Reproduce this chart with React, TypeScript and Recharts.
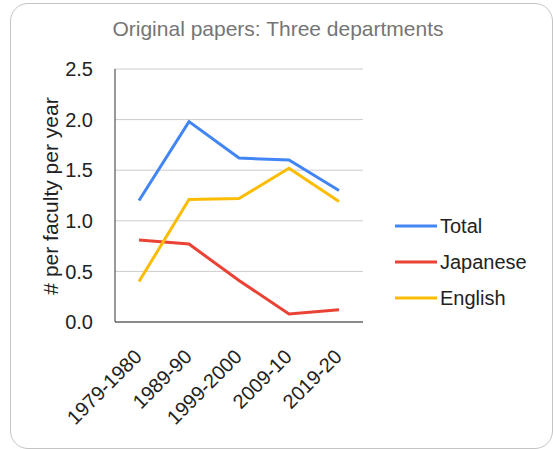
import { LineChart, Line, XAxis, YAxis, CartesianGrid, Legend } from 'recharts';

const periods = ['1979-1980', '1989-90', '1999-2000', '2009-10', '2019-20'];
const total = [1.2, 1.98, 1.62, 1.6, 1.3];
const japanese = [0.81, 0.77, 0.41, 0.08, 0.12];
const english = [0.4, 1.21, 1.22, 1.52, 1.19];
const yTicks = [0, 0.5, 1, 1.5, 2, 2.5];

const SERIES = [
  { key: 'total', name: 'Total', color: '#4285F4' },
  { key: 'japanese', name: 'Japanese', color: '#EA4335' },
  { key: 'english', name: 'English', color: '#FBBC04' }
];

const data = periods.map((period, i) => ({
  period,
  total: total[i],
  japanese: japanese[i],
  english: english[i]
}));

const FONT = 'Arial, "Liberation Sans", sans-serif';

const XTick = ({ x, y, payload }: any) => (
  <text
    x={x + 4}
    y={y + 28}
    transform={`rotate(-45, ${x + 4}, ${y + 28})`}
    textAnchor="end"
    fontSize={20}
    fontFamily={FONT}
    fill="#222"
  >
    {payload.value}
  </text>
);

const YTick = ({ x, y, payload }: any) => (
  <text x={x - 14} y={y} dy="0.355em" textAnchor="end" fontSize={20} fontFamily={FONT} fill="#222">
    {Number(payload.value).toFixed(1)}
  </text>
);

const LegendContent = () => (
  <div style={{ fontFamily: FONT, fontSize: 20, color: '#222' }}>
    {SERIES.map((s) => (
      <div key={s.key} style={{ display: 'flex', alignItems: 'center', height: 36 }}>
        <svg width={45} height={6}>
          <line x1={0} y1={3} x2={42} y2={3} stroke={s.color} strokeWidth={3} />
        </svg>
        <span>{s.name}</span>
      </div>
    ))}
  </div>
);

export default function App() {
  return (
    <div style={{ position: 'absolute', left: 0, top: 0, width: 553, height: 449, background: '#fff' }}>
      <div
        style={{
          position: 'absolute',
          left: 10,
          top: 3,
          width: 541,
          height: 444,
          border: '1px solid #c4c4c4',
          borderRadius: 18
        }}
      />
      <div
        style={{
          position: 'absolute',
          left: 0,
          top: 17,
          width: 556,
          textAlign: 'center',
          fontFamily: FONT,
          fontSize: 21,
          color: '#757575'
        }}
      >
        Original papers: Three departments
      </div>
      <div style={{ position: 'absolute', left: 0, top: 0 }}>
        <LineChart width={553} height={449} data={data} margin={{ top: 69, right: 190, left: 55, bottom: 37 }}>
          <CartesianGrid vertical={false} stroke="#cccccc" />
          <XAxis
            dataKey="period"
            padding={{ left: 24, right: 24 }}
            height={90}
            tickLine={false}
            axisLine={{ stroke: '#333' }}
            tick={<XTick />}
            interval={0}
          />
          <YAxis
            width={60}
            domain={[0, 2.5]}
            ticks={yTicks}
            tickLine={false}
            axisLine={{ stroke: '#333' }}
            tick={<YTick />}
            label={{
              content: () => (
                <text
                  x={51}
                  y={196}
                  transform="rotate(-90, 51, 196)"
                  textAnchor="middle"
                  dy="0.355em"
                  fontSize={21}
                  fontFamily={FONT}
                  fill="#222"
                >
                  # per faculty per year
                </text>
              )
            }}
          />
          <Legend
            layout="vertical"
            align="center"
            verticalAlign="middle"
            content={<LegendContent />}
            wrapperStyle={{ left: 395, top: 208, width: 150 }}
          />
          {SERIES.map((s) => (
            <Line
              key={s.key}
              type="linear"
              dataKey={s.key}
              name={s.name}
              stroke={s.color}
              strokeWidth={3}
              dot={false}
              isAnimationActive={false}
            />
          ))}
        </LineChart>
      </div>
    </div>
  );
}
